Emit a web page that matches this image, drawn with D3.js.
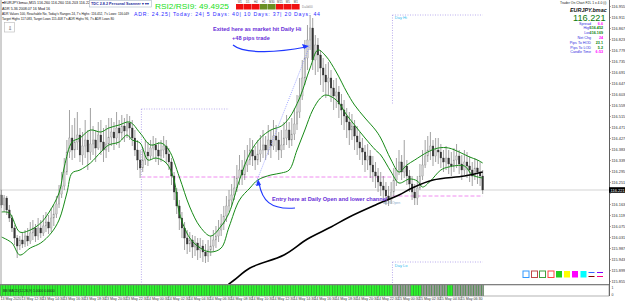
<!DOCTYPE html>
<html>
<head>
<meta charset="utf-8">
<script src="https://cdn.jsdelivr.net/npm/d3@7"></script>
<style>
  body { margin: 0; background: #fff; }
  svg { display: block; }
  text { font-family: "Liberation Sans", Arial, sans-serif; }
</style>
</head>
<body>
<svg id="chart"></svg>
<script>
// quotes are kept in points (0.001) above this base price
var base = 116.000;
var firstOpen = 201;
var closePts = [161,189,141,109,69,29,-3,21,5,37,17,49,69,37,69,49,77,93,69,109,125,165,205,237,293,373,429,381,413,441,
  361,397,421,373,405,421,389,441,413,381,405,433,453,429,469,449,477,457,489,469,429,381,341,309,341,373,357,389,401,381,
  357,381,397,365,333,277,213,157,109,69,29,5,21,-7,9,-19,-3,-27,-43,-19,-3,21,37,61,85,117,157,181,201,229,
  269,301,281,321,341,381,357,341,365,381,401,381,421,397,437,421,381,401,429,461,421,445,485,533,597,669,749,821,869,741,
  801,761,709,681,653,669,629,597,613,565,541,517,493,461,477,437,413,389,373,341,357,321,293,277,253,237,221,197,181,213,
  261,301,333,293,317,277,245,213,189,229,277,321,357,381,397,357,381,373,349,333,349,325,317,341,357,325,301,333,317,301,
  277,309,293,277,221];
var highPts = [221,201,197,161,121,81,41,37,53,61,69,93,101,85,109,101,121,133,121,149,161,197,241,293,349,421,541,481,509,533,
  469,453,501,461,549,477,461,493,501,469,481,509,509,493,533,501,521,509,525,517,501,461,421,381,389,421,413,421,437,429,
  413,421,437,421,389,349,293,229,181,133,93,61,53,41,37,29,29,21,5,21,37,61,77,101,125,157,197,221,245,277,
  321,361,341,381,401,429,421,397,421,441,461,437,481,461,501,481,453,461,493,521,493,509,549,601,669,741,821,881,921,909,
  841,829,781,749,725,733,701,661,669,637,605,581,549,533,525,501,477,453,429,401,405,381,357,333,309,293,277,253,237,253,
  309,349,381,361,421,341,301,277,245,277,325,381,421,437,453,421,429,429,405,381,397,381,373,389,405,381,361,381,373,357,
  333,349,341,333,301];
var lowPts = [149,133,121,93,53,1,-51,-19,-11,-7,-3,5,21,13,21,29,37,53,45,53,77,109,149,189,221,281,349,341,349,381,
  333,321,349,301,341,361,333,381,361,333,349,373,397,381,401,389,421,413,429,421,397,357,301,269,293,321,317,341,349,333,
  321,333,349,329,301,241,181,125,61,29,-19,-35,-27,-51,-43,-59,-51,-67,-71,-67,-43,-27,-11,13,37,61,93,133,157,181,
  213,241,241,261,293,321,317,301,321,333,349,341,361,349,381,373,341,349,381,401,389,397,421,461,509,581,641,701,781,701,
  681,693,641,613,589,601,573,541,549,509,481,461,429,401,421,381,361,341,321,293,301,269,253,229,213,197,181,161,157,165,
  197,237,281,261,269,241,213,181,161,161,221,261,309,333,341,317,333,325,309,293,301,285,277,293,309,285,261,281,269,253,
  237,261,245,237,205];

// green high/low channel, read at a few bars
var upperIdx = [0,3,7,11,15,18,22,24,27,30,34,38,41,45,49,53,57,61,64,68,72,76,80,84,87,91,95,99,103,107,110,114,118,121,124,128,132,135,139,143,145,149,152,155,158,163,167,171,175,179,182,184];
var upperPts = [133,129,53,61,89,129,209,313,413,429,461,453,469,481,493,449,401,409,381,273,153,73,37,77,129,261,369,429,461,477,509,589,709,781,757,693,613,561,509,461,429,341,293,321,341,373,389,389,373,353,341,329];
var lowerIdx = [0,4,7,11,15,19,22,25,27,30,34,38,41,45,48,50,53,56,59,63,66,68,72,76,80,84,87,91,95,98,103,107,110,113,116,119,122,124,128,132,135,139,143,145,149,152,156,159,161,164,168,171,177,180,184];
var lowerPts = [33,9,-39,-11,9,49,101,209,289,301,329,373,401,413,441,421,409,341,349,329,261,129,29,-11,-27,-11,73,181,229,261,281,289,301,381,461,541,589,601,581,521,481,429,381,361,293,249,265,257,233,257,301,313,317,281,269];
// long moving average
var maIdx = [84,89,95,108,117,126,133,143,152,157,165,177,184];
var maPts = [-179,-139,-91,-39,25,73,113,161,201,229,261,277,293];

// daily open levels and ADR boxes
var openLevels = [{ from: 54, to: 150, pts: 273 }, { from: 150, to: 184, pts: 197 }];
var adrHi = [{ from: 54, to: 87, pts: 545 }, { from: 150, to: 184, pts: 921 }];
var adrLo = [{ from: 150, to: 184, pts: -67 }];

// lower indicator panel: runs of bars [from, to, state]
var subRuns = [[0, 149, 1], [150, 156, 0], [157, 160, 1], [161, 170, 0], [171, 172, 1], [173, 184, 0]];

var priceTicks = ["116.955","116.911","116.867","116.823","116.779","116.735","116.691","116.647","116.603","116.559",
  "116.515","116.471","116.427","116.383","116.339","116.295","116.251","116.207","116.163","116.119",
  "116.075","116.031","115.987","115.943","115.899","115.855"];
var timeIdx = [0,8,16,24,32,40,48,56,64,72,80,88,96,104,112,120,128,136,144,152,160,168,176];
var timeLabels = ["13 May 2020","13 May 12:30","13 May 14:30","13 May 16:30","13 May 18:30","13 May 20:30","13 May 22:30",
  "14 May 00:30","14 May 02:30","14 May 04:30","14 May 06:30","14 May 08:30","14 May 10:30","14 May 12:30","14 May 14:30",
  "14 May 16:30","14 May 18:30","14 May 20:30","14 May 22:30","15 May 00:30","15 May 02:30","15 May 04:30","15 May 06:30"];
var tfLabels = ["W1","D1","H4","H1","M30","M15","M5","M1"];
var tfUp = [0, 0, 0, 1, 1, 0, 0, 0];

var infoLabels = ["Spread","High","Low","Net Chg","Pips To HOD","Pips To LOD","Candle Time"];
var infoValues = ["6.6","116.452","116.169","24","23.1","5.2","6:53"];
var infoColors = ["#ff00ff","#008000","#008000","#ff00ff","#008000","#008000","#ff00ff"];

var W = 625, H = 301;
var plotRight = 609, plotBottom = 284, subTop = 285, subBottom = 296;

var svg = d3.select("#chart").attr("width", W).attr("height", H);

var xScale = d3.scaleLinear().domain([0, 184]).range([1.5, 482.7]);
var yScale = d3.scaleLinear().domain([115.845, 116.981]).range([plotBottom, 0]);
var yP = function(v) { return yScale(base + v / 1000); };
var step = xScale(1) - xScale(0);

svg.append("defs").append("clipPath").attr("id", "plot")
  .append("rect").attr("x", 0).attr("y", 0).attr("width", plotRight).attr("height", plotBottom);

var plot = svg.append("g").attr("clip-path", "url(#plot)");

// frame
svg.append("line").attr("x1", 1).attr("x2", 1).attr("y1", 0).attr("y2", subBottom).attr("stroke", "#a0a0a0");
svg.append("line").attr("x1", 0).attr("x2", plotRight).attr("y1", plotBottom + 0.5).attr("y2", plotBottom + 0.5).attr("stroke", "#808080");

// bid line
var last = closePts[closePts.length - 1];
plot.append("line").attr("x1", 0).attr("x2", plotRight)
  .attr("y1", yP(last)).attr("y2", yP(last))
  .attr("stroke", "#c8c8c8").attr("stroke-width", 0.8);

// ADR boxes (dotted)
function dot(sel) {
  return sel.attr("stroke", "#a898e8").attr("stroke-width", 0.8).attr("stroke-dasharray", "1,1.5");
}
adrHi.forEach(function(d) {
  dot(plot.append("line")).attr("x1", xScale(d.from) - step / 2).attr("x2", xScale(d.to))
    .attr("y1", yP(d.pts)).attr("y2", yP(d.pts));
  dot(plot.append("line")).attr("x1", xScale(d.from) - step / 2).attr("x2", xScale(d.from) - step / 2)
    .attr("y1", yP(d.pts)).attr("y2", d.from === 54 ? plotBottom : yP(d.pts) + 90);
});
adrLo.forEach(function(d) {
  dot(plot.append("line")).attr("x1", xScale(d.from) - step / 2).attr("x2", xScale(d.to))
    .attr("y1", yP(d.pts)).attr("y2", yP(d.pts));
  dot(plot.append("line")).attr("x1", xScale(d.from) - step / 2).attr("x2", xScale(d.from) - step / 2)
    .attr("y1", yP(d.pts)).attr("y2", plotBottom);
});

// daily open dashed
openLevels.forEach(function(d) {
  plot.append("line").attr("x1", xScale(d.from) - step / 2).attr("x2", xScale(d.to))
    .attr("y1", yP(d.pts)).attr("y2", yP(d.pts))
    .attr("stroke", "#f08cf0").attr("stroke-width", 1).attr("stroke-dasharray", "4,2");
});

// labels on ADR levels
plot.append("text").attr("x", xScale(150) + 1).attr("y", yP(921) + 4).text("Day Hi")
  .attr("font-size", 4).attr("fill", "#33bbee");
plot.append("text").attr("x", xScale(150) + 1).attr("y", yP(-67) + 4.5).text("Day Lo")
  .attr("font-size", 4).attr("fill", "#33bbee");
plot.append("text").attr("x", xScale(146)).attr("y", yP(197) + 8).text("ADR Open")
  .attr("font-size", 3.5).attr("fill", "#88aacc");

// candles
var candles = closePts.map(function(c, i) {
  var o = i === 0 ? firstOpen : closePts[i - 1];
  return { i: i, o: o, c: c, h: Math.max(highPts[i], o, c), l: Math.min(lowPts[i], o, c) };
});
var cg = plot.append("g");
cg.selectAll("line.wick").data(candles).enter().append("line")
  .attr("x1", function(d) { return xScale(d.i); }).attr("x2", function(d) { return xScale(d.i); })
  .attr("y1", function(d) { return yP(d.h); }).attr("y2", function(d) { return yP(d.l); })
  .attr("stroke", "#7a7a7a").attr("stroke-width", 0.7);
cg.selectAll("rect.body").data(candles).enter().append("rect")
  .attr("x", function(d) { return xScale(d.i) - 0.85; })
  .attr("width", 1.7)
  .attr("y", function(d) { return yP(Math.max(d.o, d.c)); })
  .attr("height", function(d) { return Math.max(0.6, Math.abs(yP(d.o) - yP(d.c))); })
  .attr("fill", function(d) { return d.c >= d.o ? "#cfcfcf" : "#333"; })
  .attr("stroke", function(d) { return d.c >= d.o ? "#8c8c8c" : "#333"; })
  .attr("stroke-width", 0.3);

// channel and MA lines
var line = d3.line().curve(d3.curveCatmullRom.alpha(0.5))
  .x(function(d) { return xScale(d[0]); }).y(function(d) { return yP(d[1]); });
plot.append("path").attr("d", line(d3.zip(upperIdx, upperPts)))
  .attr("fill", "none").attr("stroke", "#168a16").attr("stroke-width", 1);
plot.append("path").attr("d", line(d3.zip(lowerIdx, lowerPts)))
  .attr("fill", "none").attr("stroke", "#168a16").attr("stroke-width", 1);
plot.append("path").attr("d", line(d3.zip(maIdx, maPts)))
  .attr("fill", "none").attr("stroke", "#000").attr("stroke-width", 1.6);

// trade line from entry to exit
plot.append("line").attr("x1", xScale(97)).attr("y1", yP(241)).attr("x2", xScale(118)).attr("y2", yP(801))
  .attr("stroke", "#8890ff").attr("stroke-width", 0.8).attr("stroke-dasharray", "1,1.2");

// annotations
var ann = svg.append("g").attr("font-weight", "bold").attr("fill", "#6a30d8");
ann.append("text").attr("x", 213).attr("y", 31).attr("font-size", 5.6).text("Exited here as market hit Daily Hi");
ann.append("text").attr("x", 232).attr("y", 40).attr("font-size", 5.6).text("+48 pips trade");
ann.append("text").attr("x", 272).attr("y", 201).attr("font-size", 5.6).text("Entry here at Daily Open and lower channel");
svg.append("path").attr("d", "M233,45 C245,55 280,52 306,47").attr("fill", "none").attr("stroke", "#2038ff").attr("stroke-width", 1.2);
svg.append("path").attr("d", "M309,46 L302,44 L304,49 Z").attr("fill", "#2038ff");
svg.append("path").attr("d", "M295,208 C270,210 262,200 259,183").attr("fill", "none").attr("stroke", "#2038ff").attr("stroke-width", 1.2);
svg.append("path").attr("d", "M258,179 L256,186 L261,185 Z").attr("fill", "#2038ff");

// right price axis
svg.append("line").attr("x1", plotRight + 0.5).attr("x2", plotRight + 0.5).attr("y1", 0).attr("y2", subBottom)
  .attr("stroke", "#606060");
var ax = svg.append("g");
priceTicks.forEach(function(t) {
  var yy = yScale(+t);
  ax.append("line").attr("x1", plotRight).attr("x2", plotRight + 2).attr("y1", yy).attr("y2", yy).attr("stroke", "#606060").attr("stroke-width", 0.5);
  if (Math.abs(yy - yP(last)) < 4.5) return; // hidden under the bid box
  ax.append("text").attr("x", plotRight + 2.5).attr("y", yy + 1.4).attr("font-size", 3.9).attr("fill", "#333").text(t);
});
svg.append("rect").attr("x", plotRight).attr("y", yP(last) - 2.8).attr("width", 16).attr("height", 5.6).attr("fill", "#000");
svg.append("text").attr("x", plotRight + 1.5).attr("y", yP(last) + 1.5).attr("font-size", 4).attr("fill", "#fff")
  .text((base + last / 1000).toFixed(3));

// lower indicator panel
var sub = svg.append("g");
sub.append("rect").attr("x", 0).attr("y", subTop).attr("width", xScale(184) + step / 2).attr("height", subBottom - subTop).attr("fill", "#2f8f2f");
subRuns.forEach(function(r) {
  d3.range(r[0], r[1] + 1).forEach(function(i) {
    sub.append("rect").attr("x", xScale(i) - step / 2 + 0.3).attr("y", subTop).attr("width", step - 0.6)
      .attr("height", subBottom - subTop).attr("fill", r[2] ? "#2cf52c" : "#9a9a9a");
  });
});
sub.append("rect").attr("x", 0).attr("y", subTop).attr("width", plotRight).attr("height", subBottom - subTop)
  .attr("fill", "none").attr("stroke", "#808080").attr("stroke-width", 0.6);
sub.append("text").attr("x", 3).attr("y", 291.5).attr("font-size", 3.4).attr("fill", "#222").text("BB MACD(12,26,9) 1.0000 0.0000");
sub.append("text").attr("x", plotRight + 2.5).attr("y", 288.5).attr("font-size", 3.5).attr("fill", "#333").text("1");
sub.append("text").attr("x", plotRight + 2.5).attr("y", 295.5).attr("font-size", 3.5).attr("fill", "#333").text("0");

// time axis
timeIdx.forEach(function(ti, k) {
  svg.append("text").attr("x", xScale(ti) - 1).attr("y", 300).attr("font-size", 3.6).attr("fill", "#333").text(timeLabels[k]);
  svg.append("line").attr("x1", xScale(ti)).attr("x2", xScale(ti)).attr("y1", subBottom).attr("y2", subBottom + 1.5).attr("stroke", "#606060").attr("stroke-width", 0.5);
});

// header texts, squeezed to the widths seen in the reference
var hdr = svg.append("g").attr("font-size", 3.6).attr("fill", "#111");
var hdrLines = [
  ["\u25BEEURJPY.bmac,M15  116.260 116.260 116.203 116.221", 4, 90],
  ["ADR 5.36 2008.07 16 Mod 16", 9.5, 48],
  ["ADR Values 100, Reachable No, Today's Ranges 24, 7's Highs: 116.452, 7's Lows: 116.049", 14.8, 127],
  ["Target Highs 117.083, Target Lows 115.408 7's ADR Highs 96, 7's ADR Lows 80", 20.2, 112]
];
hdrLines.forEach(function(l) {
  hdr.append("text").attr("x", 2).attr("y", l[1]).attr("textLength", l[2]).attr("lengthAdjust", "spacingAndGlyphs").text(l[0]);
});
svg.append("rect").attr("x", 4.5).attr("y", 22.5).attr("width", 10).attr("height", 9.5).attr("fill", "#fff").attr("stroke", "#c0c0c0").attr("stroke-width", 0.7);
svg.append("text").attr("x", 8).attr("y", 29.5).attr("font-size", 5).attr("fill", "#444").text("\u21E9");

// scanner title
svg.append("rect").attr("x", 89.5).attr("y", 0.5).attr("width", 62).attr("height", 6.5).attr("fill", "#fff").attr("stroke", "#9ab").attr("stroke-width", 0.5);
svg.append("text").attr("x", 91).attr("y", 5.3).attr("font-size", 4.4).attr("font-weight", "bold").attr("fill", "#1a2a9a")
  .attr("textLength", 58).attr("lengthAdjust", "spacingAndGlyphs").text("TDC 2.8.2 Personal Scanner \u25BE \u25BE \u25BE");
svg.append("text").attr("x", 155).attr("y", 9).attr("font-size", 7.6).attr("fill", "#22e022")
  .attr("textLength", 74).attr("lengthAdjust", "spacingAndGlyphs").text("RSI2/RSI9: 49.4925");
svg.append("text").attr("x", 134).attr("y", 16.2).attr("font-size", 5.2).attr("fill", "#2a2aff")
  .attr("textLength", 186).attr("lengthAdjust", "spacing")
  .text("ADR:  24.25|  Today:  24|  5 Days:  40|  10 Days:  37|  20 Days:  44");

// timeframe strip
tfLabels.forEach(function(t, k) {
  var x0 = 236 + k * 8;
  svg.append("rect").attr("x", x0).attr("y", 4).attr("width", 7.6).attr("height", 5.5).attr("fill", tfUp[k] ? "#6b8e23" : "#f01010");
  svg.append("text").attr("x", x0 + 3.8).attr("y", 3.4).attr("text-anchor", "middle").attr("font-size", 2.8).attr("fill", "#444").text(t);
});
svg.append("text").attr("x", 302).attr("y", 7.5).attr("font-size", 3).attr("fill", "#888").text("D=0d00");

// info panel
var info = svg.append("g");
info.append("text").attr("x", 560).attr("y", 3.5).attr("font-size", 3.4).attr("fill", "#222").text("Trader On Chart    F2L    1 x 4.0 (i)");
info.append("text").attr("x", 570).attr("y", 11.5).attr("font-size", 5.4).attr("font-weight", "bold").attr("font-style", "italic").attr("fill", "#111").text("EURJPY.bmac");
info.append("text").attr("x", 573).attr("y", 20.5).attr("font-size", 9.2).attr("fill", "#0a7a0a").text("116.221");
infoLabels.forEach(function(t, k) {
  var yy = 24.5 + k * 4.8;
  info.append("text").attr("x", 591).attr("y", yy).attr("text-anchor", "end").attr("font-size", 3.7).attr("fill", "#3030e0").text(t);
  info.append("text").attr("x", 603).attr("y", yy).attr("text-anchor", "end").attr("font-size", 3.7).attr("font-weight", "bold").attr("fill", infoColors[k]).text(infoValues[k]);
});

// colour swatches
var sw = [["#3399ff", 0], ["#c04848", 0], ["#40a040", 0], ["#ff4040", 0], ["#22cc22", 1], ["#ffff00", 1], ["#ff00ff", 1], ["#00ffff", 1]];
var swX = [523, 531.5, 539.5, 548, 556, 564, 572, 580.5];
sw.forEach(function(s, k) {
  svg.append("rect").attr("x", swX[k]).attr("y", 271).attr("width", 6).attr("height", 6.5)
    .attr("fill", s[1] ? s[0] : "none").attr("stroke", s[0]).attr("stroke-width", s[1] ? 0 : 1);
});
[["#3366ff", "#800000", 588.5], ["#8000ff", "#ff0080", 597]].forEach(function(p) {
  svg.append("line").attr("x1", p[2]).attr("x2", p[2] + 6).attr("y1", 272.5).attr("y2", 272.5).attr("stroke", p[0]).attr("stroke-width", 1);
  svg.append("line").attr("x1", p[2]).attr("x2", p[2] + 6).attr("y1", 276.5).attr("y2", 276.5).attr("stroke", p[1]).attr("stroke-width", 1);
});
</script>
</body>
</html>
